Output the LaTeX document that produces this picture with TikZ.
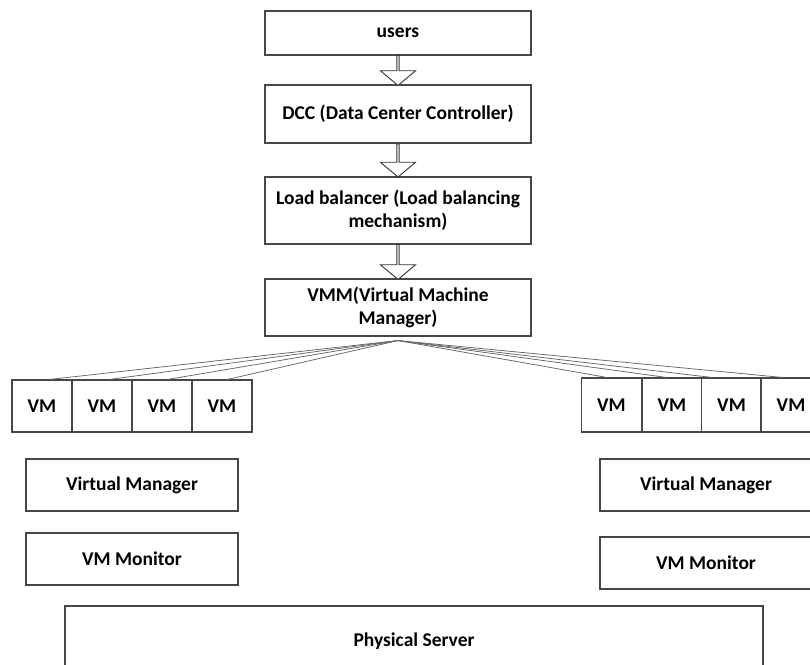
\documentclass[tikz,border=0pt]{standalone}
\usepackage{fontspec}
\setmainfont{Carlito}
\usetikzlibrary{shapes.arrows,calc}
\begin{document}
\begin{tikzpicture}[x=1pt,y=-1pt,
  box/.style={draw=black!72, line width=1.1pt, fill=white, inner sep=0pt, align=center,
    font=\fontsize{19.5}{23}\selectfont\bfseries},
  topbox/.style={box, minimum width=266pt},
  vmbox/.style={box, minimum width=60pt},
  sidebox/.style={box, minimum width=212pt, minimum height=52pt},
  blockarr/.style={single arrow, draw=black!80, line width=0.9pt, fill=white, inner sep=0pt,
    minimum width=35pt, single arrow head extend=6.5pt, single arrow tip angle=100, rotate=-90},
  fan/.style={draw=black!60, line width=0.75pt}
]
\useasboundingbox (0,0) rectangle (810,664);
\clip (0,0) rectangle (810,664);

% top chain
\node[topbox, minimum height=44pt] (users) at (398,33) {users};
\node[topbox, minimum height=58pt] (dcc) at (398,114) {DCC (Data Center Controller)};
\node[topbox, minimum height=67pt] (lb) at (398,210.5) {Load balancer (Load balancing\\mechanism)};
\node[topbox, minimum height=57pt] (vmm) at (398,307.5) {VMM(Virtual Machine\\Manager)};

\node[blockarr, minimum height=30pt] (a1) at ($(users.south)!0.5!(dcc.north)$) {};
\node[blockarr, minimum height=33pt] (a2) at ($(dcc.south)!0.5!(lb.north)$) {};
\node[blockarr, minimum height=35pt] (a3) at ($(lb.south)!0.5!(vmm.north)$) {};

\coordinate (apex) at ($(vmm.south)+(0,4)$);

% left VMs
\node[vmbox, minimum height=52pt] (lv1) at (42,406) {VM};
\node[vmbox, minimum height=52pt] (lv2) at (102,406) {VM};
\node[vmbox, minimum height=52pt] (lv3) at (162,406) {VM};
\node[vmbox, minimum height=52pt] (lv4) at (222,406) {VM};

% right VMs
\node[vmbox, minimum height=54pt] (rv1) at (611.5,405) {VM};
\node[vmbox, minimum height=54pt] (rv2) at (672,405) {VM};
\node[vmbox, minimum height=54pt] (rv3) at (731.5,405) {VM};
\node[vmbox, minimum height=54pt] (rv4) at (791,405) {VM};

% fan lines
\draw[fan] (apex) -- ($(lv1.north west)+(38,0)$);
\draw[fan] (apex) -- ($(lv2.north west)+(38,0)$);
\draw[fan] (apex) -- ($(lv3.north west)+(36,0)$);
\draw[fan] (apex) -- ($(lv4.north west)+(36,0)$);
\draw[fan] (apex) -- ($(rv1.north west)+(26,0)$);
\draw[fan] (apex) -- ($(rv2.north west)+(25,0)$);
\draw[fan] (apex) -- ($(rv3.north west)+(11,0)$);
\draw[fan] (apex) -- ($(rv4.north west)+(22,0)$);

% side boxes
\node[sidebox] (lvmgr) at (132,485) {Virtual Manager};
\node[sidebox] (lvmon) at (132,559) {VM Monitor};
\node[sidebox] (rvmgr) at (706,485) {Virtual Manager};
\node[sidebox] (rvmon) at (706,563) {VM Monitor};

% physical server
\node[box, minimum width=698pt, minimum height=70pt] (phys) at (414,641) {Physical Server};
\end{tikzpicture}
\end{document}
